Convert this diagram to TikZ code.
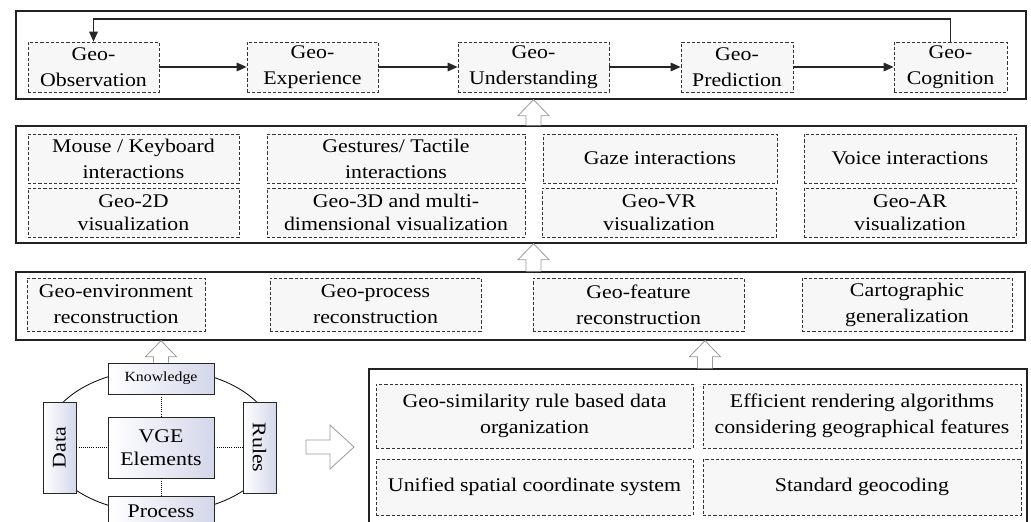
\documentclass[tikz,border=0pt]{standalone}
\usepackage{fontspec}
\setmainfont{Liberation Serif}[FakeStretch=1.13]
\usetikzlibrary{shapes.geometric,arrows.meta,calc}
\definecolor{cellfill}{HTML}{F7F7F7}
\definecolor{celledge}{HTML}{333333}
\definecolor{panelc}{HTML}{222222}
\definecolor{lav}{RGB}{212,215,234}
\definecolor{hollowc}{HTML}{9A9A9A}

\tikzset{
  % rectangle given by its corners (x1,y1) and (x2,y2)
  span/.style n args={4}{at={({(#1+#3)/2},{(#2+#4)/2})},
    minimum width={(#3-#1)*0.75pt}, minimum height={(#4-#2)*0.75pt}},
  panel/.style={draw=panelc, line width=1pt, inner sep=0pt},
  cell/.style={draw=celledge, dash pattern=on 2.4pt off 1.5pt, fill=cellfill,
    line width=0.6pt, inner sep=0pt, align=center,
    font=\fontsize{14.5pt}{19.5pt}\selectfont},
  tight/.style={font=\fontsize{14.5pt}{17pt}\selectfont},
  flow/.style={draw=black!85, line width=0.8pt, -{Triangle[length=7.5pt,width=6.5pt]}},
  gbox/.style={draw=black!85, line width=0.6pt, left color=white, right color=lav,
    inner sep=0pt, align=center, font=\fontsize{14.5pt}{17pt}\selectfont},
  link/.style={draw=black, line width=0.6pt, densely dotted},
  hollow/.style={draw=hollowc, fill=white, line width=0.6pt, line join=miter},
}

% hollow block arrow pointing up, base left open: #1 base, #2 tip
\newcommand\hollowup[2]{%
  \path[hollow] let \p1=(#1), \p2=(#2) in
    (\x1-5.6pt,\y1) -- (\x1-5.6pt,\y2-12pt) -- (\x1-11.6pt,\y2-12pt) -- (\x1,\y2)
    -- (\x1+11.6pt,\y2-12pt) -- (\x1+5.6pt,\y2-12pt) -- (\x1+5.6pt,\y1);}
% hollow block arrow pointing right: #1 base, #2 tip
\newcommand\hollowright[2]{%
  \path[hollow] let \p1=(#1), \p2=(#2) in
    (\x1,\y1+5.25pt) -- (\x2-18pt,\y1+5.25pt) -- (\x2-18pt,\y1+16.5pt) -- (\x2,\y1)
    -- (\x2-18pt,\y1-16.5pt) -- (\x2-18pt,\y1-5.25pt) -- (\x1,\y1-5.25pt) -- cycle;}

\begin{document}
\begin{tikzpicture}[x=0.75pt,y=-0.75pt]
\useasboundingbox (0,0) rectangle (1031,521);
\fill[white] (0,0) rectangle (1031,521);
\clip (0,0) rectangle (1031,521);

% ---- outer panels
\node[panel, span={16}{11}{1026}{99}] (box1) {};
\node[panel, span={16}{126}{1026}{243}] (box2) {};
\node[panel, span={16}{272}{1025}{340}] (box3) {};
\node[panel, span={369}{369}{1027}{535}] (box4) {};

% ---- geo-cognition chain
\node[cell, span={28}{42}{159}{92}] (obs) {Geo-\\Observation};
\node[cell, span={247}{42}{378}{92}] (exp) {Geo-\\Experience};
\node[cell, span={458}{42}{609}{92}] (und) {Geo-\\Understanding};
\node[cell, span={681}{42}{793}{92}] (pred) {Geo-\\Prediction};
\node[cell, span={894}{42}{1007}{92}] (cog) {Geo-\\Cognition};
\coordinate (fb) at (0,19);
\draw[flow] (obs.east) -- (exp.west);
\draw[flow] (exp.east) -- (und.west);
\draw[flow] (und.east) -- (pred.west);
\draw[flow] (pred.east) -- (cog.west);
\draw[flow] (cog.north) -- (cog.north |- fb) -| (obs.north);

% ---- interaction and visualization
\node[cell, span={28}{134}{239}{183}] (mk) {Mouse / Keyboard\\interactions};
\node[cell, span={267}{134}{525}{183}] (gt) {Gestures/ Tactile\\interactions};
\node[cell, span={543}{134}{777}{183}] (gz) {Gaze interactions};
\node[cell, span={804}{134}{1016}{183}] (vc) {Voice interactions};
\node[cell, tight, span={28}{188}{239}{237}] (v2) {Geo-2D\\visualization};
\node[cell, tight, span={267}{188}{525}{237}] (v3) {Geo-3D and multi-\\dimensional visualization};
\node[cell, tight, span={542}{188}{776}{237}] (vr) {Geo-VR\\visualization};
\node[cell, tight, span={804}{188}{1016}{237}] (ar) {Geo-AR\\visualization};

% ---- reconstruction
\node[cell, span={27}{278}{205}{331}] (ge) {Geo-environment\\reconstruction};
\node[cell, span={270}{278}{481}{331}] (gp) {Geo-process\\reconstruction};
\node[cell, span={533}{278}{744}{331}] (gf) {Geo-feature\\reconstruction};
\node[cell, span={802}{278}{1012}{331}] (cg) {Cartographic\\generalization};

% ---- key techniques
\node[cell, span={376}{384}{693}{448}] (gs) {Geo-similarity rule based data\\organization};
\node[cell, span={703}{384}{1021}{448}] (er) {Efficient rendering algorithms\\considering geographical features};
\node[cell, span={376}{459}{693}{515}] (us) {Unified spatial coordinate system};
\node[cell, span={703}{459}{1021}{515}] (sg) {Standard geocoding};

% ---- VGE elements
\node[draw=black, ellipse, line width=0.6pt, minimum width=172.5pt,
      minimum height=108pt, inner sep=0pt] (ring) at (160,441) {};
\node[gbox, span={108}{417}{214}{478}] (vge) {VGE\\Elements};
\node[gbox, span={108}{363}{214}{394}, font=\fontsize{10.5pt}{12pt}\selectfont] (know) {Knowledge};
\node[gbox, span={108}{496}{214}{526}] (proc) {Process};
\node[gbox, span={43}{402}{76}{493}] (data) {};
\node[rotate=90, font=\fontsize{14.5pt}{17pt}\selectfont] (datalbl) at (data.center) {Data};
\node[gbox, span={243}{402}{276}{493}] (rules) {};
\node[rotate=-90, font=\fontsize{14.5pt}{17pt}\selectfont] (ruleslbl) at (rules.center) {Rules};
\draw[link] (know.south) -- (vge.north);
\draw[link] (vge.south) -- (proc.north);
\draw[link] (data.east) -- (vge.west);
\draw[link] (vge.east) -- (rules.west);

% ---- block arrows between layers
\coordinate (a3x) at (705,0);
\coordinate (rb) at (306,447);
\coordinate (rt) at (354,447);
\hollowup{und.south |- box2.north}{und.south |- box1.south}
\hollowup{und.south |- box3.north}{und.south |- box2.south}
\hollowup{a3x |- box4.north}{a3x |- box3.south}
\hollowup{know.north}{know.north |- box3.south}
\hollowright{rb}{rt}
\end{tikzpicture}
\end{document}
